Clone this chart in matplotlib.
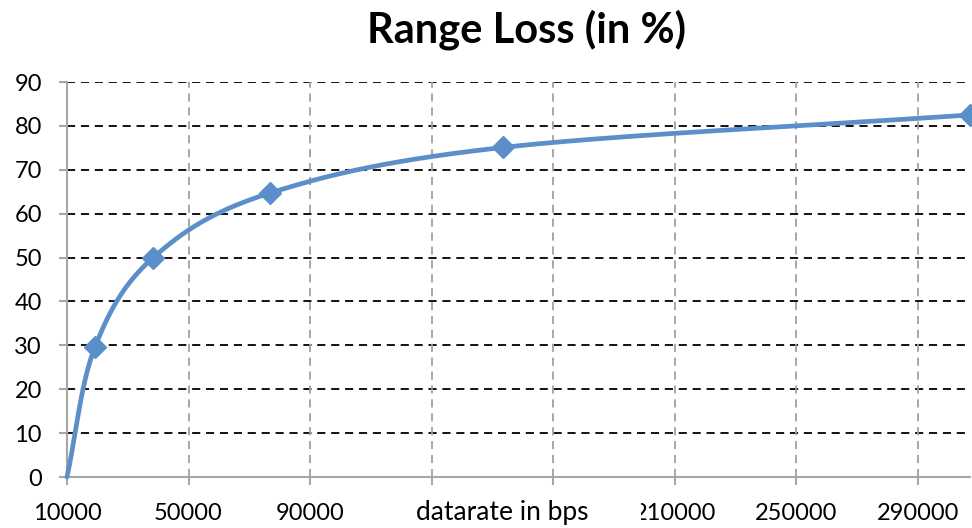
import numpy as np
import matplotlib
matplotlib.use("Agg")
import matplotlib.pyplot as plt
from matplotlib.patches import Rectangle

# Data
datarate = [10000, 19200, 38400, 76800, 153600, 307200]
range_loss = [0, 29.6, 50.0, 64.7, 75.1, 82.5]
xticks = [10000, 50000, 90000, 130000, 170000, 210000, 250000, 290000]
xticklabels = ['10000', '50000', '90000', '', '', '210000', '250000', '290000']
yticks = [0, 10, 20, 30, 40, 50, 60, 70, 80, 90]
title = "Range Loss (in %)"
xlabel = "datarate in bps"

plt.rcParams['font.family'] = ['Lato', 'DejaVu Sans']

def smooth(xs, ys, n=60):
    # Catmull-Rom style smoothing (as in spreadsheet "smoothed line")
    xs = np.asarray(xs, float); ys = np.asarray(ys, float)
    px = np.concatenate([[2*xs[0]-xs[1]], xs, [2*xs[-1]-xs[-2]]])
    py = np.concatenate([[2*ys[0]-ys[1]], ys, [2*ys[-1]-ys[-2]]])
    ox, oy = [], []
    for i in range(1, len(px)-2):
        p0, p1, p2, p3 = [np.array([px[j], py[j]]) for j in (i-1, i, i+1, i+2)]
        c1 = p1 + (p2 - p0) / 6.0
        c2 = p2 - (p3 - p1) / 6.0
        t = np.linspace(0, 1, n)[:, None]
        b = ((1-t)**3)*p1 + 3*((1-t)**2)*t*c1 + 3*(1-t)*t**2*c2 + t**3*p2
        ox.extend(b[:, 0]); oy.extend(b[:, 1])
    return np.array(ox), np.array(oy)

fig = plt.figure(figsize=(9.72, 5.28), dpi=100)
ax = fig.add_axes([67/972, 51/528, 903/972, 395/528])

color = '#5B8FCA'
sx, sy = smooth(datarate, range_loss)
ax.plot(sx, sy, color=color, lw=3.4, solid_capstyle='round', clip_on=False, zorder=3)
ax.plot(datarate[1:], range_loss[1:], linestyle='none', marker='D', markersize=11.5,
        color=color, clip_on=False, zorder=4)

ax.set_xlim(10000, 307200)
ax.set_ylim(0, 90)
ax.set_xticks(xticks)
ax.set_xticklabels(xticklabels)
ax.set_yticks(yticks)
ax.set_yticklabels([str(v) for v in yticks])

for s in ['top', 'right']:
    ax.spines[s].set_visible(False)
for s in ['left', 'bottom']:
    ax.spines[s].set_color('#A6A6A6')
    ax.spines[s].set_linewidth(1.5)

ax.tick_params(axis='both', colors='#A6A6A6', labelcolor='black', labelsize=17,
               length=6, width=1.5)
ax.tick_params(axis='y', pad=12)
ax.tick_params(axis='x', pad=13)

for yv in yticks[1:]:
    ax.axhline(yv, color='black', lw=1.3, ls=(0, (4.5, 3.2)), zorder=1)
for xv in xticks[1:]:
    ax.axvline(xv, color='#A0A0A0', lw=1.3, ls=(0, (4.5, 3.2)), zorder=1)

fig.text(526/972, 1 - 42/528, title, ha='center', va='baseline',
         fontsize=30, fontweight='bold')

fig.patches.append(Rectangle((395/972, 0), (641-395)/972, 40/528,
                             transform=fig.transFigure, facecolor='white',
                             edgecolor='none', zorder=5))
fig.text(502/972, 1 - 520/528, xlabel, ha='center', va='baseline', fontsize=19, zorder=6)

fig.savefig('out.png', dpi=100)
